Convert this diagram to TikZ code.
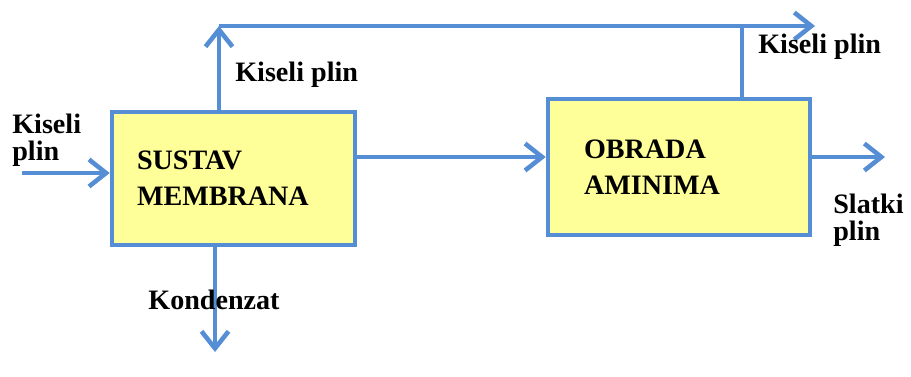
\documentclass[tikz,border=0pt]{standalone}
\usepackage{fontspec}
\setmainfont{Liberation Serif}
\usetikzlibrary{arrows.meta}
\usetikzlibrary{calc}

\definecolor{flowblue}{RGB}{85,142,213}
\definecolor{boxyellow}{RGB}{255,255,153}

\begin{document}
\begin{tikzpicture}[
    >={Straight Barb[length=3.4mm,width=5.4mm]},
    flow/.style={draw=flowblue, line width=2.6pt},
    unit/.style={draw=flowblue, line width=2.6pt, fill=boxyellow, minimum height=#1,
        align=left, font=\fontsize{16}{20.5}\selectfont\bfseries},
    lbl/.style={inner sep=0pt, align=left, font=\fontsize{16}{15.5}\selectfont\bfseries}
]
\useasboundingbox (0,0) rectangle (18.22,7.52);

    % Units:
    \node[unit=2.66cm, text width=3.86cm, inner xsep=0.5cm]  (memb) at (4.67,3.95) {SUSTAV\\MEMBRANA};
    \node[unit=2.72cm, text width=3.8cm,  inner xsep=0.72cm] (amin) at (13.58,4.18) {OBRADA\\AMINIMA};

    % Free ends of the streams:
    \coordinate (feed)  at (0.44,4.06);
    \coordinate (top)   at (4.38,7.0);
    \coordinate (vent)  at (16.3,7.0);
    \coordinate (join)  at (14.84,7.0);
    \coordinate (sweet) at (17.7,4.38);
    \coordinate (cond)  at (4.3,0.48);

    % Streams:
    \draw [flow,->] (feed) -- (feed -| memb.west);
    \draw [flow,->] (memb.north -| top) -- (top);
    \draw [flow,->] (top) -- (vent);
    \draw [flow] (amin.north -| join) -- (join);
    \draw [flow,->] (memb.east |- sweet) -- (amin.west |- sweet);
    \draw [flow,->] (amin.east |- sweet) -- (sweet);
    \draw [flow,->] (memb.south -| cond) -- (cond);

    % Stream labels:
    \node[lbl, anchor=west] (feedlbl)  at (0.24,4.72)  {Kiseli\\plin};
    \node[lbl, anchor=west] (toplbl)   at (4.7,6.02)   {Kiseli plin};
    \node[lbl, anchor=west] (ventlbl)  at (15.16,6.58) {Kiseli plin};
    \node[lbl, anchor=west] (sweetlbl) at (16.66,3.12) {Slatki\\plin};
    \node[lbl] (condlbl) at (4.28,1.52) {Kondenzat};
\end{tikzpicture}
\end{document}
